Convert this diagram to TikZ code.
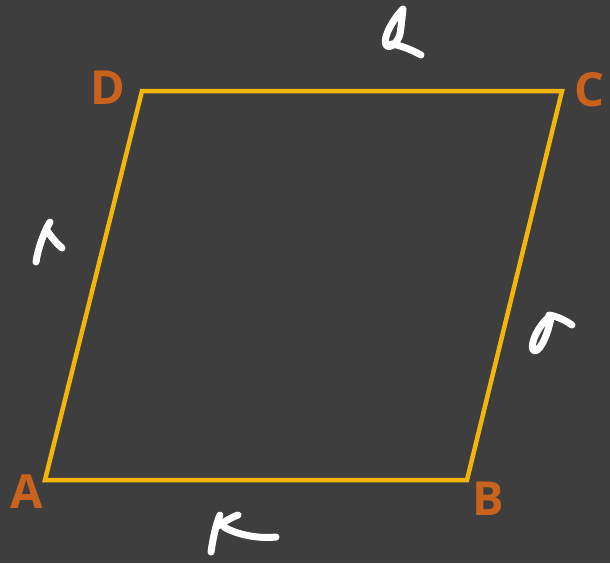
\documentclass[tikz,border=0pt]{standalone}
\usepackage{fontspec}
\newfontfamily\lblfont{Open Sans}
\definecolor{bg}{HTML}{3E3E3E}
\definecolor{edge}{HTML}{F2B50C}
\definecolor{lbl}{HTML}{C9621C}
\begin{document}
\begin{tikzpicture}[x=1pt,y=-1pt,
  vlabel/.style={text=lbl,font=\lblfont\bfseries\fontsize{47}{47}\selectfont,inner sep=0pt},
  hand/.style={draw=white,line width=7pt,line cap=round,line join=round}]
\fill[bg] (0,0) rectangle (610,563);
\useasboundingbox (0,0) rectangle (610,563);
\coordinate (A) at (45,480);
\coordinate (B) at (467,480);
\coordinate (C) at (562,91);
\coordinate (D) at (142,91);
\draw[edge,line width=4.5pt,line join=miter] (A) -- (B) -- (C) -- (D) -- cycle;
\node[vlabel] (lA) at (27,492) {A};
\node[vlabel] (lB) at (488,499) {B};
\node[vlabel] (lC) at (589,90) {C};
\node[vlabel] (lD) at (108,88) {D};
% handwritten marks
% top
\draw[hand] (403,9) .. controls (394,18) and (382,38) .. (386,45)
  .. controls (390,50) and (398,42) .. (400,34)
  .. controls (401,28) and (402,18) .. (403,9);
\draw[hand] (391,44) .. controls (400,45) and (412,50) .. (421,55);
% left
\draw[hand] (36,262) .. controls (38,248) and (44,232) .. (50,222);
\draw[hand] (46,229) .. controls (52,238) and (57,244) .. (62,248);
% right
\draw[hand] (549,315) .. controls (556,316) and (565,320) .. (572,325);
\draw[hand] (550,316) .. controls (539,325) and (530,342) .. (533,350)
  .. controls (538,355) and (547,338) .. (551,318);
% bottom
\draw[hand] (211,552) .. controls (213,538) and (216,524) .. (220,515);
\draw[hand] (218,526) .. controls (224,522) and (232,517) .. (238,515);
\draw[hand] (224,527) .. controls (236,534) and (256,539) .. (276,537);
\end{tikzpicture}
\end{document}
